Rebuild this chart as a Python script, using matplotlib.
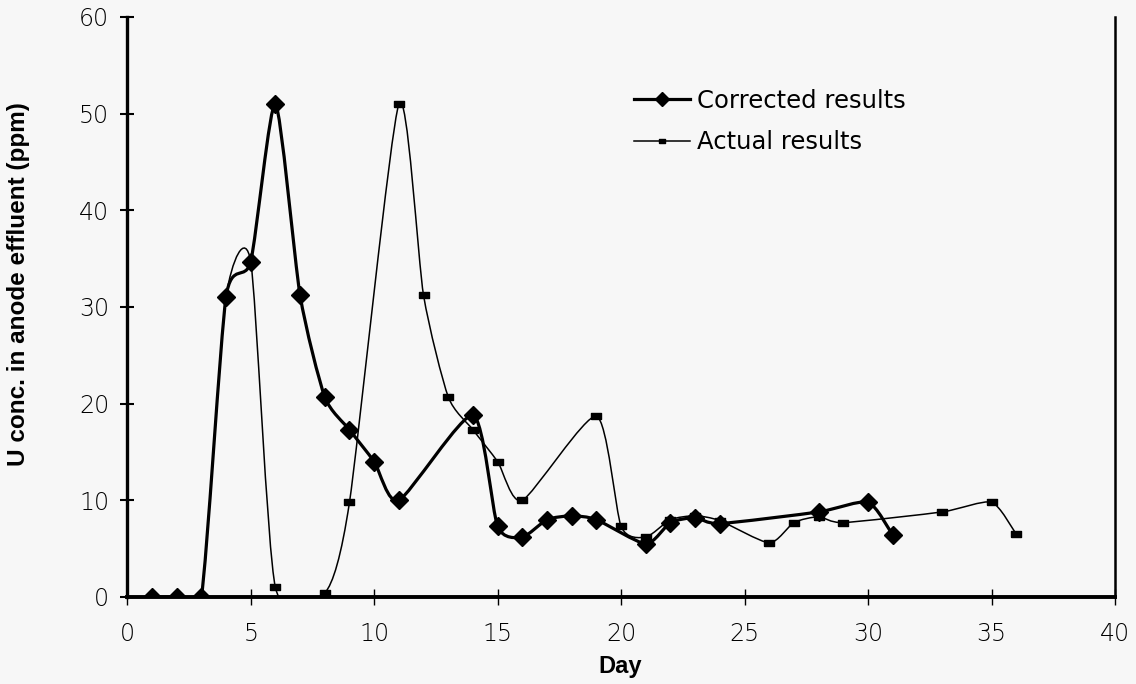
import matplotlib
matplotlib.use("Agg")
import matplotlib.pyplot as plt
import numpy as np
from matplotlib.path import Path
from matplotlib.patches import PathPatch
from matplotlib.lines import Line2D

# Corrected results (diamonds)
corr_day = [1, 2, 3, 4, 5, 6, 7, 8, 9, 10, 11, 14, 15, 16, 17, 18, 19, 21, 22, 23, 24, 28, 30, 31]
corr_ppm = [0, 0, 0, 31, 34.7, 51, 31.2, 20.7, 17.3, 14, 10, 18.8, 7.3, 6.2, 8, 8.4, 8, 5.5, 7.7, 8.2, 7.6, 8.8, 9.8, 6.4]

# Actual results (small dashes)
act_day = [1, 2, 3, 4, 5, 6, 8, 9, 11, 12, 13, 14, 15, 16, 19, 20, 21, 22, 23, 24, 26, 27, 28, 29, 33, 35, 36]
act_ppm = [0, 0, 0, 31, 34.7, 1.0, 0.4, 9.8, 51, 31.2, 20.7, 17.3, 14, 10, 18.7, 7.3, 6.2, 8, 8.4, 7.9, 5.6, 7.7, 8.3, 7.7, 8.8, 9.8, 6.5]

BG = "#f7f7f7"
TICKFONT = "DejaVu Sans"
LABELFONT = "Liberation Sans"


def smooth_path(x, y, k=1 / 9):
    # excel-like smoothed line: cubic bezier through the data points
    pts = np.column_stack([x, y]).astype(float)
    verts = [pts[0]]
    codes = [Path.MOVETO]
    n = len(pts)
    for i in range(n - 1):
        p0 = pts[i - 1] if i > 0 else pts[i]
        p1 = pts[i]
        p2 = pts[i + 1]
        p3 = pts[i + 2] if i + 2 < n else pts[i + 1]
        verts += [p1 + (p2 - p0) * k, p2 - (p3 - p1) * k, p2]
        codes += [Path.CURVE4] * 3
    return Path(verts, codes)


fig = plt.figure(figsize=(11.36, 6.84), dpi=100, facecolor=BG)
ax = fig.add_axes([0.112, 0.1272, 0.8695, 0.848], facecolor=BG)

ax.add_patch(PathPatch(smooth_path(act_day, act_ppm), facecolor="none", edgecolor="black", lw=1.1, zorder=2))
rect = [(-1, -0.55), (1, -0.55), (1, 0.55), (-1, 0.55), (-1, -0.55)]
ax.plot(act_day, act_ppm, linestyle="none", marker=rect, ms=7, color="black", zorder=3)

ax.add_patch(PathPatch(smooth_path(corr_day, corr_ppm), facecolor="none", edgecolor="black", lw=2.3, zorder=4))
ax.plot(corr_day, corr_ppm, linestyle="none", marker="D", ms=9, color="black", zorder=5)

ax.set_xlim(0, 40)
ax.set_ylim(0, 60)
ax.set_xticks(np.arange(0, 41, 5))
ax.set_yticks(np.arange(0, 61, 10))

ax.spines["top"].set_visible(False)
ax.spines["left"].set_linewidth(2.4)
ax.spines["bottom"].set_linewidth(2.8)
ax.spines["right"].set_linewidth(1.8)

ax.tick_params(axis="y", direction="inout", length=10, width=1.5, pad=8, labelsize=17)
ax.tick_params(axis="x", direction="inout", length=12, width=1.0, pad=12, labelsize=17)
for lab in ax.get_xticklabels() + ax.get_yticklabels():
    lab.set_family(TICKFONT)
    lab.set_fontweight("light")

ax.set_xlabel("Day", fontsize=17, fontweight="bold", family=LABELFONT)
ax.set_ylabel("U conc. in anode effluent (ppm)", fontsize=17.5, fontweight="bold", family=LABELFONT)
ax.xaxis.set_label_coords(0.499, -0.1)
ax.yaxis.set_label_coords(-0.098, 0.54)

handles = [
    Line2D([], [], color="black", lw=2.3, marker="D", ms=7),
    Line2D([], [], color="black", lw=1.1, marker=rect, ms=5),
]
ax.legend(handles, ["Corrected results", "Actual results"], loc="upper left",
          bbox_to_anchor=(634 / 1136, 1 - 89 / 684), bbox_transform=fig.transFigure,
          frameon=False, borderpad=0, borderaxespad=0, handlelength=2.3,
          handletextpad=0.3, labelspacing=0.7,
          prop={"family": TICKFONT, "size": 17.5})

fig.savefig("out.png", dpi=100, facecolor=BG)
